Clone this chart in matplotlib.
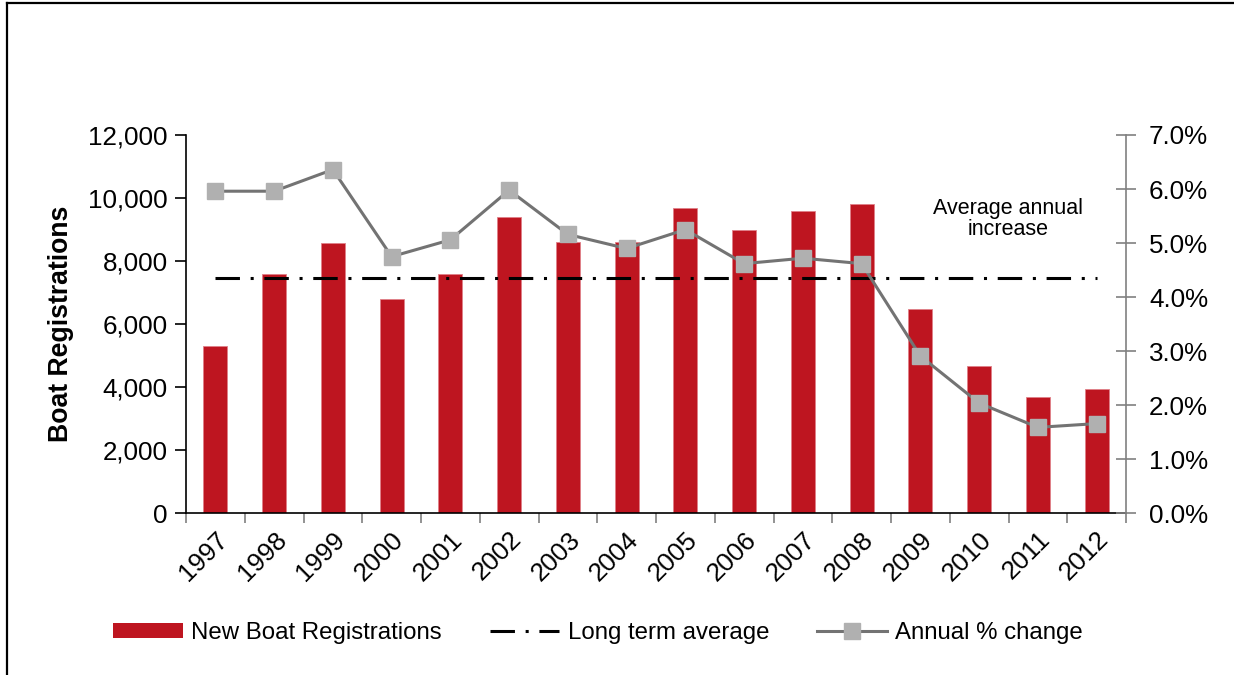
import matplotlib
matplotlib.use("Agg")
import matplotlib.pyplot as plt
from matplotlib.lines import Line2D
from matplotlib.patches import Patch
from matplotlib.ticker import FuncFormatter, MultipleLocator, FixedLocator
import numpy as np

plt.rcParams['font.family'] = ['Liberation Sans', 'DejaVu Sans']

years = ['1997', '1998', '1999', '2000', '2001', '2002', '2003', '2004',
         '2005', '2006', '2007', '2008', '2009', '2010', '2011', '2012']
registrations = [5300, 7580, 8560, 6790, 7580, 9410, 8610, 8600,
                 9670, 8980, 9590, 9820, 6480, 4670, 3690, 3940]
annual_change = [0.0596, 0.0596, 0.0636, 0.0475, 0.0506, 0.0598, 0.0516, 0.0490,
                 0.0525, 0.0462, 0.0472, 0.0462, 0.0291, 0.0204, 0.0159, 0.0166]
long_term_average = 7470

bar_color = '#BE1520'
line_color = '#737373'
marker_color = '#B0B0B0'

fig = plt.figure(figsize=(12.34, 6.75), dpi=100)
ax = fig.add_axes([186/1234, 1-513.3/675, (1126-186)/1234, (513.3-135)/675])
x = np.arange(len(years))

ax.bar(x, registrations, width=0.41, color=bar_color, edgecolor='#E08088',
       linewidth=0.6, zorder=2, label='New Boat Registrations')
avg_line, = ax.plot([x[0], x[-1]], [long_term_average, long_term_average],
                    color='black', lw=2.2, linestyle=(0, (8, 3.5, 1, 3.5)),
                    zorder=3, label='Long term average')

ax.set_xlim(-0.5, len(years) - 0.5)
ax.set_ylim(0, 12000)
ax.yaxis.set_major_locator(MultipleLocator(2000))
ax.yaxis.set_major_formatter(FuncFormatter(lambda v, p: f"{int(v):,}"))
ax.tick_params(axis='y', direction='out', length=8, width=1.2, colors='black',
               labelsize=18.7, pad=5)
ax.set_xticks(x)
ax.set_xticklabels(years, rotation=45, ha='right', rotation_mode='anchor', fontsize=18.7)
ax.tick_params(axis='x', length=0, pad=10)
ax.xaxis.set_minor_locator(FixedLocator(np.arange(-0.5, len(years), 1.0)))
ax.tick_params(axis='x', which='minor', direction='out', length=7, width=1.2,
               color='#808080')
ax.set_ylabel('Boat Registrations', fontsize=19.2, fontweight='bold', labelpad=10)

for s in ['top', 'right']:
    ax.spines[s].set_visible(False)
ax.spines['left'].set_linewidth(1.2)
ax.spines['bottom'].set_linewidth(1.2)

ax2 = ax.twinx()
chg_line, = ax2.plot(x, annual_change, color=line_color, lw=2.2, marker='s',
                     markersize=11, markerfacecolor=marker_color,
                     markeredgecolor=marker_color, zorder=4, label='Annual % change')
ax2.set_ylim(0, 0.07)
ax2.yaxis.set_major_locator(MultipleLocator(0.01))
ax2.yaxis.set_major_formatter(FuncFormatter(lambda v, p: f"{v*100:.1f}%"))
ax2.tick_params(axis='y', direction='inout', length=15, width=1.2, color='#808080',
                labelcolor='black', labelsize=18.7, pad=9)
for s in ['top', 'left', 'bottom']:
    ax2.spines[s].set_visible(False)
ax2.spines['right'].set_color('#808080')
ax2.spines['right'].set_linewidth(1.2)

fig.text(1008/1234, 1-219/675, 'Average annual\nincrease', ha='center', va='center',
         fontsize=15.5, linespacing=1.05)

handles = [Patch(facecolor=bar_color, edgecolor='none'), avg_line, chg_line]
labels = ['New Boat Registrations', 'Long term average', 'Annual % change']
fig.legend(handles, labels, loc='center', bbox_to_anchor=(598/1234, 1-633/675),
           ncol=3, frameon=False, fontsize=17.3, handlelength=2.9, handleheight=0.55,
           handletextpad=0.35, columnspacing=2.0)

fig.add_artist(Line2D([7/1234, 7/1234], [0, 1-3/675], transform=fig.transFigure,
                      color='black', lw=1.6))
fig.add_artist(Line2D([7/1234, 1], [1-3/675, 1-3/675], transform=fig.transFigure,
                      color='black', lw=1.6))

fig.savefig('out.png', dpi=100)
